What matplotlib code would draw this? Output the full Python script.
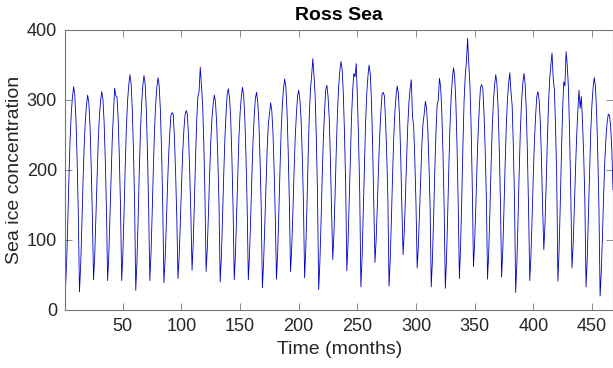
import numpy as np
import matplotlib
matplotlib.use('Agg')
import matplotlib.pyplot as plt

# monthly sea ice concentration, Ross Sea, 39 years (12 values per line)
ice = [
    27, 65, 123, 188, 243, 281, 304, 319, 307, 272, 214, 138,
    26, 63, 119, 181, 234, 270, 293, 307, 296, 262, 206, 133,
    43, 78, 132, 191, 242, 277, 299, 312, 301, 269, 215, 145,
    42, 78, 133, 193, 246, 281, 317, 306, 304, 273, 218, 147,
    42, 80, 139, 204, 260, 298, 321, 336, 324, 289, 230, 154,
    28, 68, 129, 197, 255, 295, 320, 335, 323, 286, 224, 145,
    42, 80, 138, 202, 257, 294, 318, 332, 320, 286, 228, 152,
    39, 71, 119, 173, 219, 252, 278, 282, 279, 245, 195, 131,
    45, 76, 124, 177, 223, 256, 278, 285, 280, 248, 199, 136,
    57, 95, 153, 217, 272, 305, 312, 347, 322, 295, 240, 165,
    55, 88, 138, 194, 241, 274, 294, 307, 297, 267, 216, 151,
    40, 76, 131, 192, 244, 280, 309, 316, 302, 272, 217, 145,
    43, 79, 134, 194, 247, 282, 304, 318, 307, 274, 219, 148,
    43, 78, 131, 190, 241, 276, 302, 311, 298, 268, 215, 145,
    32, 66, 119, 177, 227, 264, 280, 296, 285, 254, 201, 132,
    44, 81, 138, 201, 256, 293, 316, 330, 319, 284, 227, 153,
    55, 89, 140, 197, 247, 280, 306, 314, 300, 273, 221, 153,
    46, 87, 149, 218, 278, 315, 335, 359, 335, 305, 246, 165,
    29, 67, 125, 190, 245, 283, 315, 321, 305, 274, 216, 140,
    72, 109, 165, 228, 281, 318, 341, 355, 344, 310, 253, 180,
    56, 94, 154, 219, 275, 314, 338, 333, 352, 305, 245, 168,
    33, 74, 138, 207, 268, 309, 334, 350, 337, 299, 236, 153,
    68, 100, 148, 202, 248, 282, 308, 311, 306, 272, 224, 160,
    34, 71, 128, 191, 246, 283, 306, 320, 309, 274, 217, 143,
    79, 112, 162, 217, 264, 297, 317, 329, 277, 262, 215, 150,
    60, 91, 139, 191, 236, 267, 280, 298, 288, 260, 212, 150,
    33, 72, 131, 197, 254, 292, 300, 331, 319, 283, 224, 146,
    31, 72, 135, 204, 264, 305, 330, 346, 333, 296, 233, 151,
    45, 90, 158, 234, 299, 335, 355, 388, 352, 320, 262, 175,
    62, 96, 148, 205, 254, 290, 318, 322, 316, 280, 228, 161,
    44, 82, 140, 205, 260, 298, 321, 336, 324, 289, 231, 155,
    47, 85, 143, 208, 263, 301, 324, 339, 312, 292, 234, 158,
    25, 66, 128, 197, 257, 297, 322, 338, 325, 288, 225, 144,
    42, 77, 131, 191, 242, 277, 305, 312, 300, 269, 215, 145,
    86, 123, 179, 241, 294, 330, 350, 367, 331, 315, 262, 190,
    41, 84, 149, 221, 284, 326, 320, 369, 350, 317, 251, 166,
    60, 93, 144, 200, 248, 284, 314, 288, 305, 268, 222, 157,
    33, 72, 132, 197, 254, 293, 317, 332, 320, 284, 224, 147,
    20, 54, 106, 163, 212, 246, 268, 280, 278, 262, 228, 172,
]
months = np.arange(1, len(ice) + 1)

xticks = [50, 100, 150, 200, 250, 300, 350, 400, 450]
yticks = [0, 100, 200, 300, 400]

plt.rcParams['font.family'] = ['Liberation Sans', 'DejaVu Sans']
txtcol = '#262626'
axcol = '#777777'

fig = plt.figure(figsize=(6.13, 3.68), dpi=100)
ax = fig.add_axes([65.4 / 613, 58 / 368, (613 - 65.4) / 613, 280 / 368])

ax.plot(months, ice, color='#0000c8', lw=0.6)

ax.set_xlim(1, len(ice))
ax.set_ylim(0, 400)
ax.set_xticks(xticks)
ax.set_yticks(yticks)
ax.tick_params(direction='in', length=5, width=0.6, color=axcol,
               labelsize=13, labelcolor=txtcol, top=True, right=True,
               pad=6)
for s in ax.spines.values():
    s.set_color(axcol)
    s.set_linewidth(0.8)

ax.set_title('Ross Sea', fontsize=14, fontweight='bold', color='black', pad=7)
ax.set_xlabel('Time (months)', fontsize=14, color=txtcol, labelpad=4)
ax.set_ylabel('Sea ice concentration', fontsize=14, color=txtcol, labelpad=3)

fig.savefig('out.png', dpi=100)
